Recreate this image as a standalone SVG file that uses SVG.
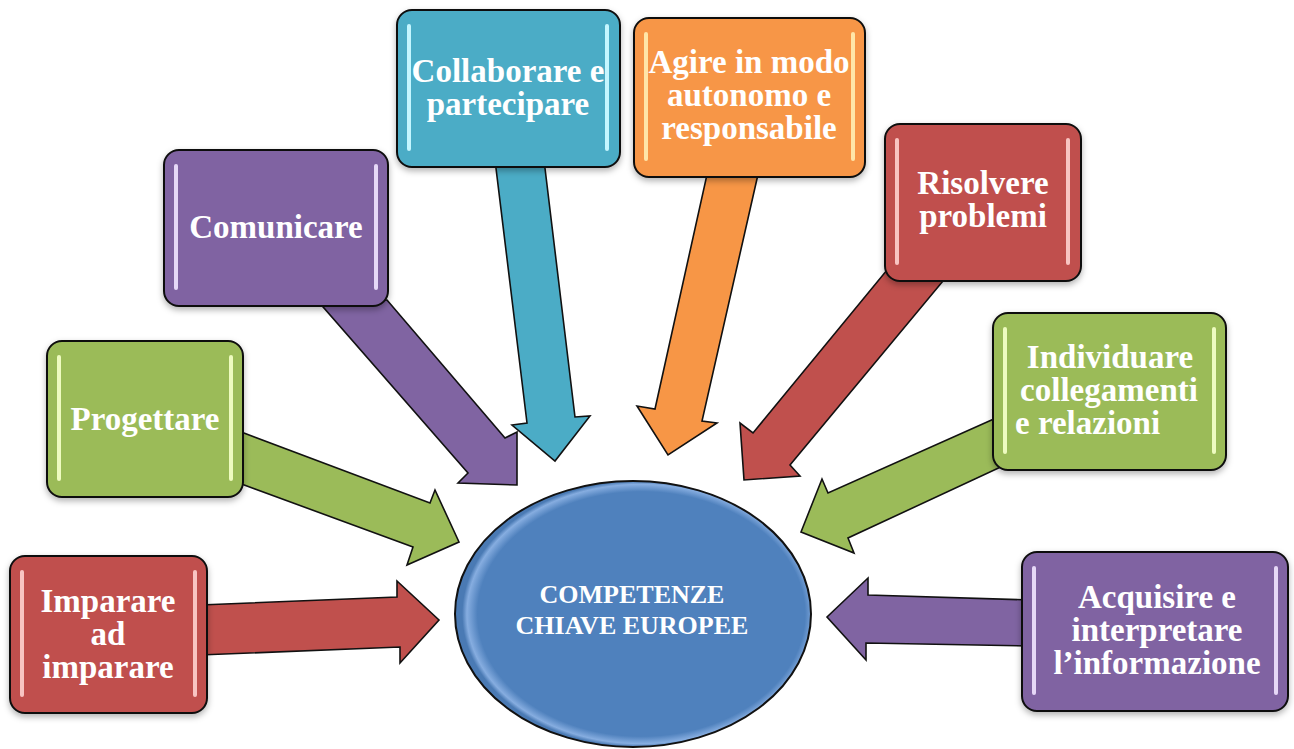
<svg xmlns="http://www.w3.org/2000/svg" width="1294" height="749" viewBox="0 0 1294 749">
<defs>
<filter id="sh" x="-10%" y="-10%" width="120%" height="125%">
<feDropShadow dx="0" dy="3" stdDeviation="3" flood-color="#000" flood-opacity="0.3"/>
</filter>
<radialGradient id="ellg" cx="52%" cy="50%" r="50%" fx="56%" fy="50%">
<stop offset="0.92" stop-color="#4F81BD"/>
<stop offset="0.975" stop-color="#86ade0"/>
<stop offset="1" stop-color="#4a7ab4"/>
</radialGradient>
</defs>
<style>
.box{stroke:#111;stroke-width:2;filter:url(#sh)}
.arr{stroke:#111;stroke-width:1.6;stroke-linejoin:miter}
.red{fill:#C0504D}.green{fill:#9BBB59}.purple{fill:#8064A2}.teal{fill:#4BACC6}.orange{fill:#F79646}
.hl-red{fill:#f8c4c2}.hl-green{fill:#eefbc0}.hl-purple{fill:#e6d8f7}.hl-teal{fill:#c4f6ff}.hl-orange{fill:#ffe6a8}
.t{font-family:"Liberation Serif","Times New Roman",serif;font-weight:bold;font-size:33px;fill:#fff;text-anchor:middle}
.tc{font-family:"Liberation Serif","Times New Roman",serif;font-weight:bold;font-size:26px;fill:#fff;text-anchor:middle}
</style>
<rect width="1294" height="749" fill="#fff"/>
<g id="connectors">
<polygon class="arr red" points="200,605 397,597 397,581 439,620 400,663 400,647 200,655"/>
<polygon class="arr green" points="236,430 430,503 435,490 459,542 407,565 413,547 236,482"/>
<polygon class="arr purple" points="317,300 387,300 505,438 517,432 517,485 458,483 468,473"/>
<polygon class="arr teal" points="495,160 544,160 575,417 590,416 555,461 512,425 527,423"/>
<polygon class="arr orange" points="708,170 759,170 702,421 717,423 668,455 637,406 655,409"/>
<polygon class="arr red" points="887,270 948,275 790,465 800,476 744,480 740,423 753,433"/>
<polygon class="arr green" points="1005,414 1005,465 848,538 854,553 801,532 822,479 828,493"/>
<polygon class="arr purple" points="1030,600 1030,646 866,643 866,660 827,617 868,578 868,595"/>
</g>
<g id="center">
<ellipse cx="633" cy="614" rx="178" ry="133" fill="url(#ellg)" stroke="#111" stroke-width="2"/>
<text class="tc" x="632" y="603">COMPETENZE</text>
<text class="tc" x="632" y="634">CHIAVE EUROPEE</text>
</g>
<g id="n-imparare">
<rect class="box red" x="10" y="556" width="197" height="157" rx="15"/>
<rect class="hl-red" x="20" y="570" width="4" height="127" rx="2"/>
<rect class="hl-red" x="193" y="570" width="4" height="127" rx="2"/>
<text class="t" x="108" y="612">Imparare</text>
<text class="t" x="108" y="645">ad</text>
<text class="t" x="108" y="678">imparare</text>
</g>
<g id="n-progettare">
<rect class="box green" x="47" y="341" width="196" height="156" rx="15"/>
<rect class="hl-green" x="57" y="355" width="4" height="126" rx="2"/>
<rect class="hl-green" x="229" y="355" width="4" height="126" rx="2"/>
<text class="t" x="145" y="430">Progettare</text>
</g>
<g id="n-comunicare">
<rect class="box purple" x="164" y="150" width="224" height="156" rx="15"/>
<rect class="hl-purple" x="174" y="164" width="4" height="126" rx="2"/>
<rect class="hl-purple" x="374" y="164" width="4" height="126" rx="2"/>
<text class="t" x="276" y="238">Comunicare</text>
</g>
<g id="n-collaborare">
<rect class="box teal" x="397" y="10" width="223" height="157" rx="15"/>
<rect class="hl-teal" x="407" y="24" width="4" height="127" rx="2"/>
<rect class="hl-teal" x="605" y="24" width="4" height="127" rx="2"/>
<text class="t" x="508" y="82">Collaborare e</text>
<text class="t" x="508" y="115">partecipare</text>
</g>
<g id="n-agire">
<rect class="box orange" x="634" y="18" width="231" height="159" rx="15"/>
<rect class="hl-orange" x="644" y="32" width="4" height="129" rx="2"/>
<rect class="hl-orange" x="851" y="32" width="4" height="129" rx="2"/>
<text class="t" x="749" y="73">Agire in modo</text>
<text class="t" x="749" y="106">autonomo e</text>
<text class="t" x="749" y="139">responsabile</text>
</g>
<g id="n-risolvere">
<rect class="box red" x="885" y="124" width="196" height="157" rx="15"/>
<rect class="hl-red" x="895" y="138" width="4" height="127" rx="2"/>
<rect class="hl-red" x="1066" y="138" width="4" height="127" rx="2"/>
<text class="t" x="983" y="194">Risolvere</text>
<text class="t" x="983" y="227">problemi</text>
</g>
<g id="n-individuare">
<rect class="box green" x="993" y="313" width="233" height="157" rx="15"/>
<rect class="hl-green" x="1003" y="327" width="4" height="127" rx="2"/>
<rect class="hl-green" x="1212" y="327" width="4" height="127" rx="2"/>
<text class="t" x="1110" y="368">Individuare</text>
<text class="t" x="1109" y="401">collegamenti</text>
<text class="t" x="1015" y="434" style="text-anchor:start">e relazioni</text>
</g>
<g id="n-acquisire">
<rect class="box purple" x="1022" y="552" width="266" height="159" rx="15"/>
<rect class="hl-purple" x="1032" y="566" width="4" height="129" rx="2"/>
<rect class="hl-purple" x="1274" y="566" width="4" height="129" rx="2"/>
<text class="t" x="1157" y="608">Acquisire e</text>
<text class="t" x="1157" y="641">interpretare</text>
<text class="t" x="1157" y="674">l’informazione</text>
</g>
</svg>
